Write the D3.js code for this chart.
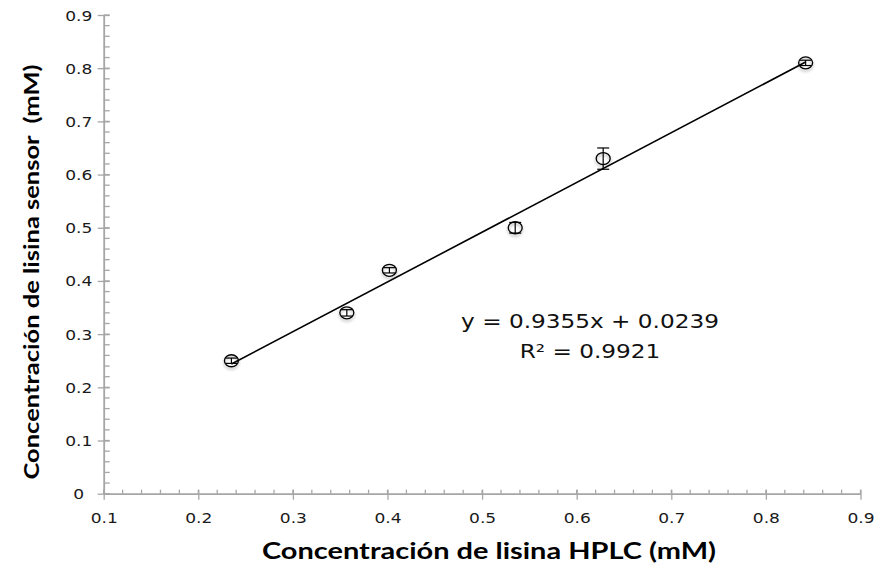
<!DOCTYPE html>
<html>
<head>
<meta charset="utf-8">
<script src="https://cdn.jsdelivr.net/npm/d3@7/dist/d3.min.js"></script>
<style>
html,body{margin:0;padding:0;background:#fff;}
svg{display:block;}
</style>
</head>
<body>
<svg id="chart" width="877" height="568"></svg>
<script>
// ---- data ----
const hplc   = [0.235, 0.357, 0.402, 0.535, 0.628, 0.842];
const sensor = [0.250, 0.340, 0.420, 0.500, 0.630, 0.810];
const errs   = [0.005, 0.006, 0.005, 0.010, 0.020, 0.005];
const xTicks = [0.1, 0.2, 0.3, 0.4, 0.5, 0.6, 0.7, 0.8, 0.9];
const yTicks = [0, 0.1, 0.2, 0.3, 0.4, 0.5, 0.6, 0.7, 0.8, 0.9];
const slope = 0.9355, intercept = 0.0239;
const eqLabel = "y = 0.9355x + 0.0239";
const r2Label = "R² = 0.9921";
const xTitle = "Concentración de lisina HPLC (mM)";
const yTitle = "Concentración de lisina sensor\u00A0 (mM)";

const svg = d3.select("#chart");
const x = d3.scaleLinear().domain([0.1, 0.9]).range([103.7, 860.5]);
const y = d3.scaleLinear().domain([0, 0.9]).range([493.7, 15]);
const axisColor = "#a6a6a6";
const SX = 1.22; // horizontal stretch of the reference

const defs = svg.append("defs");
const f = defs.append("filter").attr("id","sh").attr("x","-50%").attr("y","-50%").attr("width","200%").attr("height","200%");
f.append("feDropShadow").attr("dx",0).attr("dy",2).attr("stdDeviation",1.6).attr("flood-color","#000").attr("flood-opacity",0.35);

// minor ticks
const xMinor = d3.range(0.1, 0.9001, 0.02);
const yMinor = d3.range(0, 0.9001, 0.02);
svg.append("g").selectAll("line").data(xMinor).join("line")
  .attr("x1", d => x(d)).attr("x2", d => x(d))
  .attr("y1", y(0)).attr("y2", y(0) - 4)
  .attr("stroke", axisColor).attr("stroke-width", 1.3);
svg.append("g").selectAll("line").data(yMinor).join("line")
  .attr("y1", d => y(d)).attr("y2", d => y(d))
  .attr("x1", x(0.1)).attr("x2", x(0.1) + 6)
  .attr("stroke", axisColor).attr("stroke-width", 1.3);

// x axis
const gx = svg.append("g").attr("transform", `translate(0,${y(0)})`)
  .call(d3.axisBottom(x).tickValues(xTicks).tickFormat(d3.format(".1f")).tickSizeOuter(0).tickSizeInner(6));
gx.select(".domain").attr("stroke", axisColor).attr("stroke-width", 1.8);
gx.selectAll(".tick line").attr("stroke", axisColor).attr("stroke-width", 1.3).attr("y1", -4);
gx.selectAll(".tick text")
  .attr("y", 0).attr("dy", null)
  .attr("transform", `translate(0,29) scale(${SX},1)`)
  .attr("font-family", "DejaVu Sans").attr("font-size", 14).attr("fill", "#1a1a1a");

// y axis
const gy = svg.append("g").attr("transform", `translate(${x(0.1)},0)`)
  .call(d3.axisLeft(y).tickValues(yTicks).tickFormat(d => d === 0 ? "0" : d3.format(".1f")(d)).tickSizeOuter(0).tickSizeInner(6));
gy.select(".domain").attr("stroke", axisColor).attr("stroke-width", 1.8);
gy.selectAll(".tick line").attr("stroke", axisColor).attr("stroke-width", 1.3).attr("x1", 6);
gy.selectAll(".tick text")
  .attr("x", 0).attr("dy", "0.36em")
  .attr("text-anchor", "middle")
  .attr("transform", `translate(-25,0) scale(${SX},1)`)
  .attr("font-family", "DejaVu Sans").attr("font-size", 14).attr("fill", "#1a1a1a");
svg.selectAll(".domain").attr("fill","none");

// trend line
const xMin = d3.min(hplc), xMax = d3.max(hplc);
svg.append("line")
  .attr("x1", x(xMin)).attr("y1", y(slope * xMin + intercept))
  .attr("x2", x(xMax)).attr("y2", y(slope * xMax + intercept))
  .attr("stroke", "#000").attr("stroke-width", 1.6);

// points
const pts = hplc.map((v, i) => ({x: v, y: sensor[i], e: errs[i]}));
const pg = svg.append("g").selectAll("g").data(pts).join("g");
pg.append("ellipse")
  .attr("cx", d => x(d.x)).attr("cy", d => y(d.y))
  .attr("rx", 7).attr("ry", 6)
  .attr("fill", "none").attr("stroke", "#000").attr("stroke-width", 1.3)
  .attr("filter", "url(#sh)");
pg.append("line")
  .attr("x1", d => x(d.x)).attr("x2", d => x(d.x))
  .attr("y1", d => y(d.y - d.e)).attr("y2", d => y(d.y + d.e))
  .attr("stroke", "#000").attr("stroke-width", 1.2);
pg.selectAll(".cap").data(d => [d.y - d.e, d.y + d.e].map(v => ({x: d.x, v}))).join("line")
  .attr("class","cap")
  .attr("x1", d => x(d.x) - 6).attr("x2", d => x(d.x) + 6)
  .attr("y1", d => y(d.v)).attr("y2", d => y(d.v))
  .attr("stroke", "#000").attr("stroke-width", 1.2);

// equation
svg.append("text").text(eqLabel)
  .attr("transform", `translate(590,328) scale(${SX},1)`)
  .attr("text-anchor", "middle").attr("font-family", "DejaVu Sans").attr("font-size", 19).attr("fill", "#111");
svg.append("text").text(r2Label)
  .attr("transform", `translate(590,358) scale(${SX},1)`)
  .attr("text-anchor", "middle").attr("font-family", "DejaVu Sans").attr("font-size", 19).attr("fill", "#111");

// axis titles
svg.append("text").text(xTitle)
  .attr("x", 489).attr("y", 559)
  .attr("text-anchor", "middle").attr("font-family", "Lato").attr("font-weight", "bold").attr("font-size", 23)
  .attr("textLength", 454).attr("lengthAdjust", "spacingAndGlyphs").attr("fill", "#000");
svg.append("text").text(yTitle)
  .attr("transform", "translate(39,272) rotate(-90)")
  .attr("text-anchor", "middle").attr("font-family", "Lato").attr("font-weight", "bold").attr("font-size", 21)
  .attr("textLength", 415).attr("lengthAdjust", "spacingAndGlyphs").attr("fill", "#000");
</script>
</body>
</html>
